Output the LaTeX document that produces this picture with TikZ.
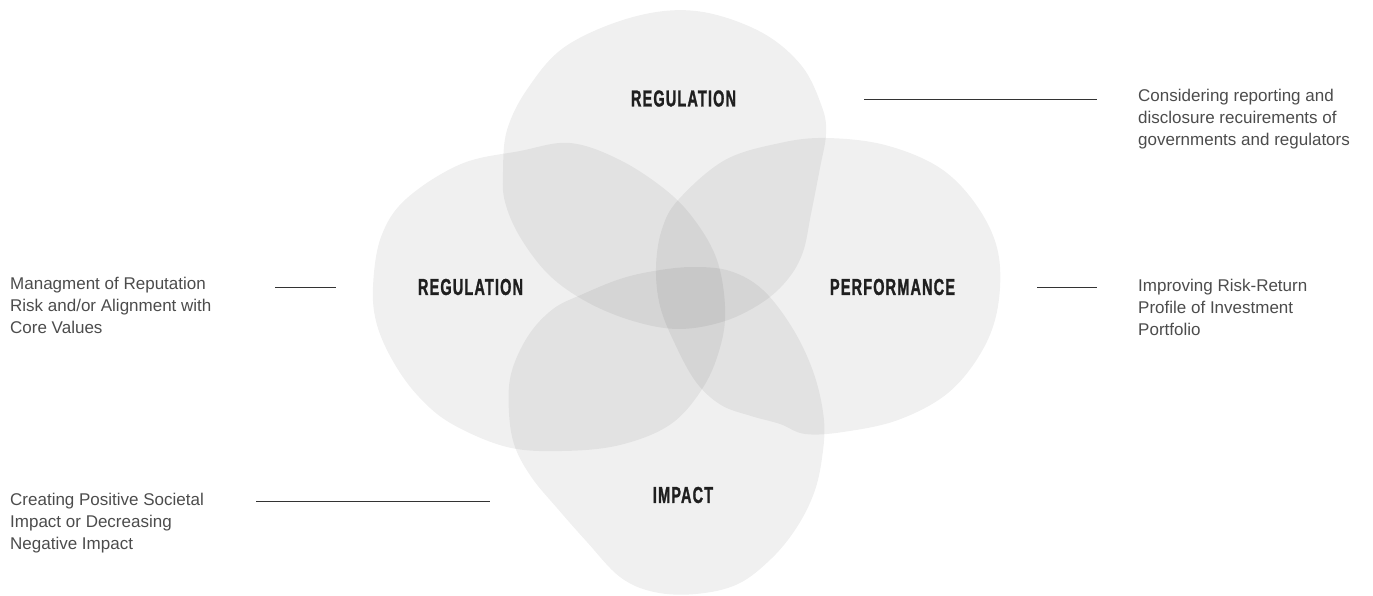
\documentclass[tikz,border=0pt]{standalone}
\usepackage{fontspec}
\setmainfont{Liberation Sans}
\newfontfamily\labelfont[FakeStretch=0.63,LetterSpace=5,FakeBold=1.2]{Liberation Sans}
\begin{document}
\begin{tikzpicture}[x=1pt,y=-1pt,
  blob/.style={fill=black,fill opacity=0.06,draw=none},
  circlelabel/.style={font=\labelfont\bfseries\fontsize{23}{25}\selectfont,text=black!88,inner sep=0pt},
  note/.style={font=\fontsize{17}{22}\selectfont,text=black!70,align=left,inner sep=0pt,anchor=north west},
  leader/.style={draw=black!80,line width=0.9pt}]
\useasboundingbox (0,0) rectangle (1373,596);

% four overlapping petals
\path[blob] plot[smooth cycle,tension=0.6] coordinates {
  (566,46) (633,17) (696,11) (759,31) (801,65) (822,107) (826,134) (820,168)
  (811,214) (803,252) (788,279) (763,302) (725,321) (679,329) (633,321)
  (587,302) (549,275) (520,237) (505,202) (503,172) (507,130) (528,88)};
\path[blob] plot[smooth cycle,tension=0.6] coordinates {
  (461,164) (520,151) (570,143) (620,160) (667,191) (696,222) (717,260)
  (725,306) (721,344) (704,386) (671,424) (620,445) (562,451) (507,447)
  (452,424) (419,397) (394,363) (377,325) (373,287) (381,237) (406,199)};
\path[blob] plot[smooth cycle,tension=0.6] coordinates {
  (656,267) (662,229) (679,199) (725,160) (780,143) (826,138) (885,145)
  (940,168) (977,206) (998,252) (998,306) (982,351) (948,393) (898,420)
  (843,432) (805,434) (780,424) (751,416) (721,405) (696,382) (675,344) (660,306)};
\path[blob] plot[smooth cycle,tension=0.6] coordinates {
  (583,294) (620,279) (654,271) (692,267) (730,271) (763,290) (793,329)
  (814,374) (824,420) (822,458) (814,493) (797,527) (772,558) (738,584)
  (696,594) (654,592) (620,577) (587,542) (557,508) (532,478) (515,447)
  (509,413) (511,374) (528,336) (553,309)};

% petal titles
\node[circlelabel] (reg) at (683.5,98.5) {REGULATION};
\node[circlelabel] (rep) at (470.5,287) {REGULATION};
\node[circlelabel] (perf) at (892.5,287) {PERFORMANCE};
\node[circlelabel] (imp) at (683,495) {IMPACT};

% explanatory notes
\node[note] (regnote) at (1138,89) {Considering reporting and\\disclosure recuirements of\\governments and regulators};
\node[note] (perfnote) at (1138,279) {Improving Risk-Return\\Profile of Investment\\Portfolio};
\node[note] (repnote) at (10,277) {Managment of Reputation\\Risk and/or Alignment with\\Core Values};
\node[note] (impnote) at (10,493) {Creating Positive Societal\\Impact or Decreasing\\Negative Impact};

% leader lines
\coordinate (r1a) at (864,99);  \coordinate (r1b) at (1097,99);
\coordinate (p1a) at (1037,287); \coordinate (p1b) at (1097,287);
\coordinate (l1a) at (275,287);  \coordinate (l1b) at (336,287);
\coordinate (i1a) at (256,501);  \coordinate (i1b) at (490,501);
\draw[leader] (r1a) -- (r1b);
\draw[leader] (p1a) -- (p1b);
\draw[leader] (l1a) -- (l1b);
\draw[leader] (i1a) -- (i1b);
\end{tikzpicture}
\end{document}
